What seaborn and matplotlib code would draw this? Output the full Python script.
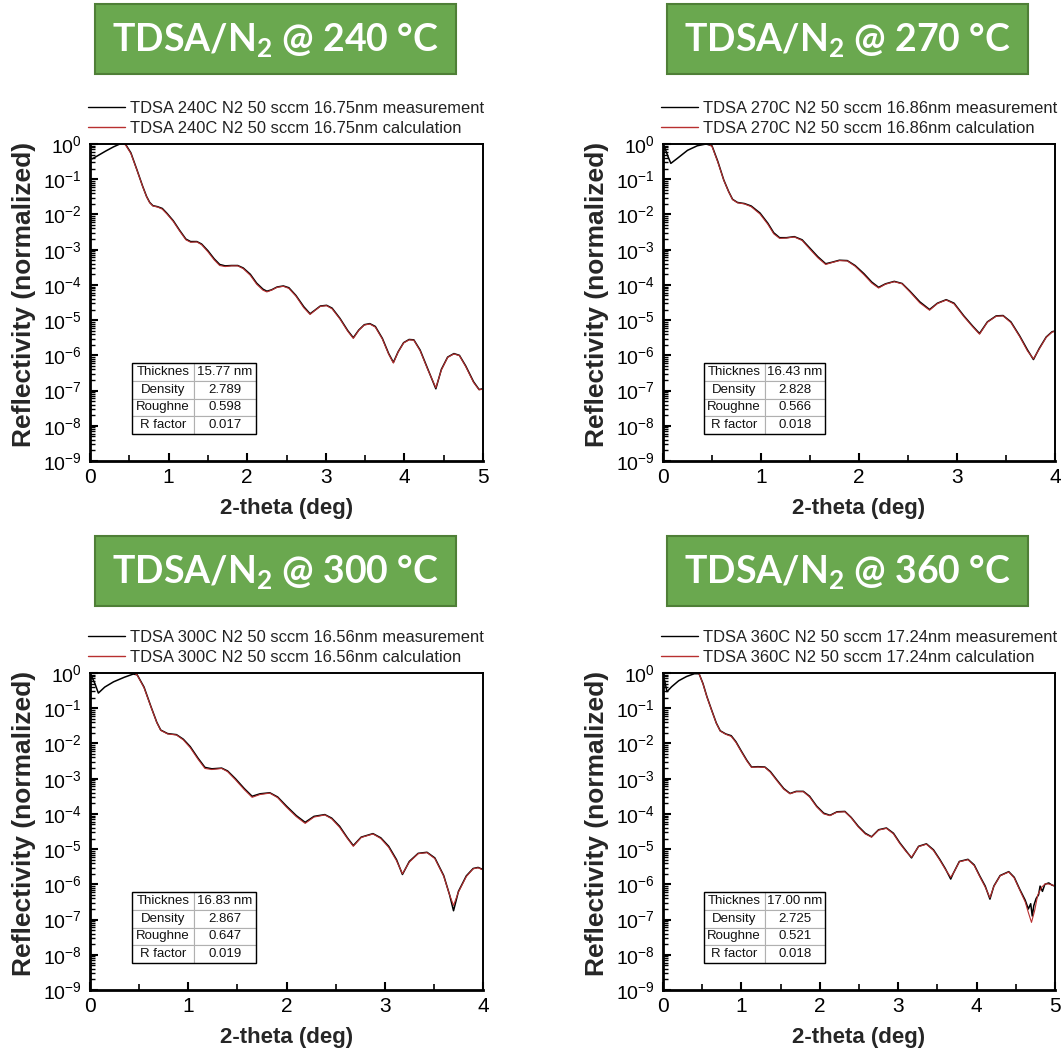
import numpy as np
import pandas as pd
import matplotlib
matplotlib.use("Agg")
import matplotlib.pyplot as plt
import seaborn as sns
from matplotlib.patches import Rectangle
from matplotlib.ticker import LogLocator, MultipleLocator, NullFormatter, FixedLocator

# ---------------- data (log10 of normalized reflectivity) ----------------
temps = ["240", "270", "300", "360"]
legend_thick = ["16.75", "16.86", "16.56", "17.24"]
x_max = [5, 4, 4, 5]

table_labels = ["Thicknes", "Density", "Roughne", "R factor"]
table_240 = ["15.77 nm", "2.789", "0.598", "0.017"]
table_270 = ["16.43 nm", "2.828", "0.566", "0.018"]
table_300 = ["16.83 nm", "2.867", "0.647", "0.019"]
table_360 = ["17.00 nm", "2.725", "0.521", "0.018"]

x_240_meas = [0.03, 0.10, 0.20, 0.30, 0.38, 0.45, 0.52, 0.60, 0.67, 0.72, 0.76, 0.80, 0.86, 0.92, 0.98,
              1.06, 1.14, 1.22, 1.28, 1.36, 1.42, 1.50, 1.58, 1.65, 1.72, 1.80, 1.88, 1.95, 2.04, 2.12,
              2.20, 2.25, 2.31, 2.38, 2.46, 2.53, 2.62, 2.72, 2.80, 2.86, 2.93, 3.01, 3.08, 3.18, 3.28,
              3.35, 3.42, 3.49, 3.56, 3.63, 3.72, 3.80, 3.86, 3.92, 3.99, 4.06, 4.12, 4.20, 4.30, 4.40,
              4.47, 4.55, 4.63, 4.70, 4.78, 4.88, 4.95, 5.00]
y_240_meas = [-0.42, -0.33, -0.20, -0.08, 0.00, 0.00, -0.25, -0.75, -1.20, -1.49, -1.66, -1.75, -1.78, -1.83, -1.97,
              -2.18, -2.45, -2.70, -2.77, -2.77, -2.84, -3.03, -3.26, -3.42, -3.46, -3.45, -3.45, -3.52, -3.70, -3.95,
              -4.12, -4.18, -4.14, -4.06, -4.03, -4.08, -4.30, -4.62, -4.82, -4.72, -4.60, -4.58, -4.66, -4.95, -5.30,
              -5.50, -5.28, -5.13, -5.10, -5.18, -5.52, -5.95, -6.20, -5.90, -5.64, -5.55, -5.56, -5.85, -6.40, -6.95,
              -6.40, -6.05, -5.95, -6.00, -6.30, -6.75, -6.97, -6.95]
x_240_calc = [0.40, 0.45, 0.52, 0.60, 0.67, 0.72, 0.76, 0.80, 0.86, 0.92, 0.98,
              1.06, 1.14, 1.22, 1.28, 1.36, 1.42, 1.50, 1.58, 1.65, 1.72, 1.80, 1.88, 1.95, 2.04, 2.12,
              2.20, 2.25, 2.31, 2.38, 2.46, 2.53, 2.62, 2.72, 2.80, 2.86, 2.93, 3.01, 3.08, 3.18, 3.28,
              3.35, 3.42, 3.49, 3.56, 3.63, 3.72, 3.80, 3.86, 3.92, 3.99, 4.06, 4.12, 4.20, 4.30, 4.40,
              4.47, 4.55, 4.63, 4.70, 4.78, 4.88, 4.95, 5.00]
y_240_calc = [0.00, -0.02, -0.27, -0.76, -1.21, -1.50, -1.67, -1.76, -1.79, -1.85, -1.99,
              -2.20, -2.47, -2.72, -2.79, -2.78, -2.86, -3.06, -3.29, -3.45, -3.48, -3.46, -3.46, -3.54, -3.73, -3.98,
              -4.15, -4.20, -4.15, -4.07, -4.04, -4.10, -4.32, -4.65, -4.84, -4.73, -4.61, -4.59, -4.68, -4.97, -5.32,
              -5.52, -5.29, -5.14, -5.11, -5.20, -5.54, -5.97, -6.22, -5.91, -5.65, -5.56, -5.57, -5.87, -6.42, -6.92,
              -6.42, -6.06, -5.96, -6.01, -6.32, -6.77, -6.98, -6.96]

x_270_meas = [0.02, 0.05, 0.08, 0.15, 0.25, 0.35, 0.44, 0.50, 0.56, 0.62, 0.67, 0.71, 0.76, 0.83, 0.90,
              0.99, 1.07, 1.13, 1.19, 1.26, 1.34, 1.42, 1.50, 1.58, 1.66, 1.72, 1.80, 1.88, 1.96, 2.05,
              2.13, 2.20, 2.27, 2.36, 2.44, 2.52, 2.62, 2.72, 2.80, 2.89, 2.97, 3.07, 3.16, 3.23, 3.31,
              3.40, 3.47, 3.55, 3.64, 3.72, 3.78, 3.84, 3.91, 3.97, 4.00]
y_270_meas = [-0.12, -0.35, -0.55, -0.40, -0.18, -0.05, 0.00, -0.05, -0.50, -1.02, -1.35, -1.57, -1.66, -1.69, -1.76,
              -1.96, -2.25, -2.52, -2.66, -2.66, -2.63, -2.72, -2.96, -3.20, -3.40, -3.36, -3.30, -3.31, -3.45, -3.68,
              -3.92, -4.07, -3.97, -3.90, -3.96, -4.18, -4.48, -4.70, -4.52, -4.42, -4.52, -4.88, -5.17, -5.38, -5.05,
              -4.88, -4.87, -5.05, -5.45, -5.85, -6.12, -5.80, -5.48, -5.33, -5.31]
x_270_calc = [0.46, 0.50, 0.56, 0.62, 0.67, 0.71, 0.76, 0.83, 0.90,
              0.99, 1.07, 1.13, 1.19, 1.26, 1.34, 1.42, 1.50, 1.58, 1.66, 1.72, 1.80, 1.88, 1.96, 2.05,
              2.13, 2.20, 2.27, 2.36, 2.44, 2.52, 2.62, 2.72, 2.80, 2.89, 2.97, 3.07, 3.16, 3.23, 3.31,
              3.40, 3.47, 3.55, 3.64, 3.72, 3.78, 3.84, 3.91, 3.97, 4.00]
y_270_calc = [0.00, -0.07, -0.52, -1.03, -1.36, -1.58, -1.67, -1.70, -1.78,
              -1.99, -2.28, -2.55, -2.68, -2.67, -2.64, -2.74, -2.99, -3.23, -3.42, -3.37, -3.31, -3.32, -3.47, -3.71,
              -3.95, -4.09, -3.98, -3.91, -3.97, -4.20, -4.51, -4.72, -4.53, -4.43, -4.54, -4.90, -5.19, -5.40, -5.06,
              -4.89, -4.88, -5.07, -5.47, -5.88, -6.10, -5.82, -5.49, -5.34, -5.32]

x_300_meas = [0.02, 0.05, 0.085, 0.15, 0.24, 0.35, 0.44, 0.48, 0.55, 0.62, 0.68, 0.72, 0.79, 0.88, 0.95,
              1.02, 1.10, 1.17, 1.24, 1.34, 1.40, 1.48, 1.57, 1.65, 1.73, 1.83, 1.91, 2.00, 2.10, 2.19,
              2.28, 2.39, 2.46, 2.54, 2.62, 2.68, 2.76, 2.88, 2.96, 3.04, 3.12, 3.18, 3.25, 3.34, 3.43,
              3.51, 3.60, 3.66, 3.70, 3.75, 3.83, 3.90, 3.95, 4.00]
y_300_meas = [-0.12, -0.30, -0.57, -0.40, -0.25, -0.12, -0.03, -0.05, -0.40, -0.95, -1.40, -1.62, -1.72, -1.75, -1.88,
              -2.09, -2.42, -2.68, -2.72, -2.70, -2.78, -3.00, -3.28, -3.50, -3.43, -3.40, -3.52, -3.78, -4.05, -4.24,
              -4.07, -4.02, -4.12, -4.35, -4.68, -4.90, -4.66, -4.56, -4.68, -4.92, -5.30, -5.72, -5.35, -5.12, -5.09,
              -5.25, -5.75, -6.30, -6.75, -6.20, -5.76, -5.55, -5.52, -5.58]
x_300_calc = [0.46, 0.48, 0.55, 0.62, 0.68, 0.72, 0.79, 0.88, 0.95,
              1.02, 1.10, 1.17, 1.24, 1.34, 1.40, 1.48, 1.57, 1.65, 1.73, 1.83, 1.91, 2.00, 2.10, 2.19,
              2.28, 2.39, 2.46, 2.54, 2.62, 2.68, 2.76, 2.88, 2.96, 3.04, 3.12, 3.18, 3.25, 3.34, 3.43,
              3.51, 3.60, 3.66, 3.70, 3.75, 3.83, 3.90, 3.95, 4.00]
y_300_calc = [-0.02, -0.06, -0.42, -0.96, -1.41, -1.63, -1.73, -1.76, -1.90,
              -2.12, -2.45, -2.71, -2.74, -2.71, -2.80, -3.03, -3.31, -3.53, -3.45, -3.41, -3.54, -3.81, -4.08, -4.27,
              -4.09, -4.03, -4.14, -4.38, -4.70, -4.92, -4.67, -4.57, -4.70, -4.95, -5.33, -5.70, -5.37, -5.13, -5.10,
              -5.27, -5.77, -6.30, -6.60, -6.22, -5.78, -5.56, -5.53, -5.59]

x_360_meas = [0.02, 0.05, 0.11, 0.20, 0.30, 0.40, 0.46, 0.51, 0.56, 0.62, 0.68, 0.73, 0.80, 0.87, 0.93,
              1.00, 1.07, 1.13, 1.21, 1.30, 1.37, 1.45, 1.54, 1.62, 1.70, 1.79, 1.87, 1.96, 2.05, 2.13,
              2.22, 2.32, 2.40, 2.49, 2.58, 2.66, 2.75, 2.85, 2.94, 3.02, 3.10, 3.17, 3.26, 3.36, 3.45,
              3.53, 3.60, 3.67, 3.70, 3.78, 3.89, 3.97, 4.04, 4.11, 4.17, 4.22, 4.30, 4.41, 4.48, 4.55,
              4.62, 4.66, 4.69, 4.71, 4.73, 4.76, 4.79, 4.81, 4.84, 4.87, 4.92, 4.96, 5.00]
y_360_meas = [-0.20, -0.53, -0.39, -0.22, -0.10, -0.02, -0.02, -0.30, -0.67, -1.05, -1.42, -1.64, -1.73, -1.78, -1.95,
              -2.22, -2.48, -2.67, -2.66, -2.67, -2.80, -3.03, -3.28, -3.42, -3.36, -3.36, -3.50, -3.78, -3.98, -4.04,
              -3.94, -3.93, -4.10, -4.35, -4.55, -4.65, -4.45, -4.40, -4.55, -4.82, -5.05, -5.25, -4.92, -4.85, -5.02,
              -5.29, -5.55, -5.85, -5.70, -5.35, -5.29, -5.45, -5.76, -6.05, -6.42, -6.05, -5.75, -5.64, -5.80, -6.14,
              -6.45, -6.70, -6.55, -6.90, -6.60, -6.40, -6.30, -6.05, -6.20, -6.00, -5.96, -6.02, -6.05]
x_360_calc = [0.46, 0.51, 0.56, 0.62, 0.68, 0.73, 0.80, 0.87, 0.93,
              1.00, 1.07, 1.13, 1.21, 1.30, 1.37, 1.45, 1.54, 1.62, 1.70, 1.79, 1.87, 1.96, 2.05, 2.13,
              2.22, 2.32, 2.40, 2.49, 2.58, 2.66, 2.75, 2.85, 2.94, 3.02, 3.10, 3.17, 3.26, 3.36, 3.45,
              3.53, 3.60, 3.67, 3.72, 3.78, 3.89, 3.97, 4.04, 4.11, 4.17, 4.22, 4.30, 4.41, 4.48, 4.55,
              4.62, 4.66, 4.70, 4.74, 4.78, 4.83, 4.88, 4.94, 5.00]
y_360_calc = [-0.02, -0.31, -0.68, -1.06, -1.43, -1.65, -1.74, -1.80, -1.97,
              -2.24, -2.50, -2.68, -2.67, -2.68, -2.82, -3.05, -3.30, -3.43, -3.37, -3.37, -3.52, -3.80, -4.00, -4.05,
              -3.95, -3.94, -4.11, -4.37, -4.57, -4.66, -4.46, -4.41, -4.57, -4.84, -5.07, -5.23, -4.93, -4.86, -5.04,
              -5.31, -5.57, -5.80, -5.62, -5.36, -5.30, -5.47, -5.78, -6.08, -6.38, -6.06, -5.76, -5.65, -5.82, -6.16,
              -6.50, -6.80, -7.08, -6.75, -6.30, -6.08, -5.98, -6.00, -6.05]

meas_x = [x_240_meas, x_270_meas, x_300_meas, x_360_meas]
meas_y = [y_240_meas, y_270_meas, y_300_meas, y_360_meas]
calc_x = [x_240_calc, x_270_calc, x_300_calc, x_360_calc]
calc_y = [y_240_calc, y_270_calc, y_300_calc, y_360_calc]
tables = [table_240, table_270, table_300, table_360]

# ---------------- style ----------------
sns.set_theme(style="white")
plt.rcParams["font.family"] = ["Liberation Sans", "DejaVu Sans"]
plt.rcParams["mathtext.fontset"] = "custom"
plt.rcParams["mathtext.bf"] = "Lato:bold"
plt.rcParams["mathtext.rm"] = "Lato"

W, H = 1063, 1055
fig = plt.figure(figsize=(W / 100, H / 100), dpi=100)
fig.patch.set_facecolor("white")

# pixel geometry of each panel: (axes left, axes right, axes top, axes bottom, title box left, title box top)
geom = [(90, 483, 144, 461, 95, 4),
        (663, 1055, 144, 461, 667, 4),
        (90, 483, 673, 990, 95, 536),
        (663, 1055, 673, 990, 667, 536)]

meas_color = "black"
calc_color = "#b83030"

for i in range(4):
    L, R, T, B, bx, by = geom[i]
    aw, ah = R - L, B - T
    ax = fig.add_axes([L / W, 1 - B / H, aw / W, ah / H])
    ax.set_facecolor("white")
    dm = pd.DataFrame({"x": meas_x[i], "y": np.power(10.0, meas_y[i])})
    dc = pd.DataFrame({"x": calc_x[i], "y": np.power(10.0, calc_y[i])})
    lab = f"TDSA {temps[i]}C N2 50 sccm {legend_thick[i]}nm"
    sns.lineplot(data=dm, x="x", y="y", ax=ax, color=meas_color, lw=1.1,
                 estimator=None, sort=False, label=lab + " measurement")
    sns.lineplot(data=dc, x="x", y="y", ax=ax, color=calc_color, lw=0.8,
                 estimator=None, sort=False, label=lab + " calculation")
    ax.set_yscale("log")
    ax.set_ylim(1e-9, 1)
    ax.set_xlim(0, x_max[i])
    ax.yaxis.set_major_locator(FixedLocator([10.0 ** k for k in range(-9, 1)]))
    ax.yaxis.set_minor_locator(LogLocator(base=10, subs=np.arange(2, 10), numticks=30))
    ax.yaxis.set_minor_formatter(NullFormatter())
    ax.xaxis.set_major_locator(MultipleLocator(1))
    ax.xaxis.set_minor_locator(MultipleLocator(0.5))
    ax.tick_params(axis="both", which="both", direction="in", top=False, right=False,
                   left=True, bottom=True, colors="black")
    ax.tick_params(axis="x", which="major", length=6, width=1.5, pad=5, labelsize=15)
    ax.tick_params(axis="x", which="minor", length=4, width=1.2)
    ax.tick_params(axis="y", which="major", length=6, width=1.5, pad=6, labelsize=14)
    ax.tick_params(axis="y", which="minor", length=3.5, width=1.0)
    for s in ["top", "right"]:
        ax.spines[s].set_linewidth(1.4)
        ax.spines[s].set_color("black")
    for s in ["left", "bottom"]:
        ax.spines[s].set_linewidth(2.0)
        ax.spines[s].set_color("black")
    ax.set_xlabel("2-theta (deg)", fontsize=16, fontweight="bold")
    ax.set_ylabel("Reflectivity (normalized)", fontsize=19, fontweight="bold")
    ax.xaxis.set_label_coords(0.5, -37 / ah)
    ax.yaxis.set_label_coords(-54 / aw, 0.5 + 8 / ah)
    ax.grid(False)

    leg = ax.legend(loc="lower left", bbox_to_anchor=(-2 / aw, 1 + 8 / ah),
                    frameon=False, fontsize=11.9, handlelength=2.25, handletextpad=0.3,
                    labelspacing=0.3, borderpad=0, borderaxespad=0)
    for t in leg.get_texts():
        t.set_color("#222222")
    for h in leg.get_lines():
        h.set_linewidth(1.0)

    # parameter table
    tx0 = (42 if i in (0, 2) else 41) / aw
    tw = (124 if i in (0, 2) else 121) / aw
    ty0 = 27 / ah
    th = 71 / ah
    cells = [[table_labels[r], tables[i][r]] for r in range(4)]
    tab = ax.table(cellText=cells, bbox=[tx0, ty0, tw, th], cellLoc="center", zorder=5)
    tab.auto_set_font_size(False)
    tab.set_fontsize(9.5)
    for (r, c), cell in tab.get_celld().items():
        cell.set_edgecolor("#b0b0b0")
        cell.set_linewidth(0.8)
        cell.set_facecolor("white")
        cell.get_text().set_color("#111111")
    ax.add_patch(Rectangle((tx0, ty0), tw, th, transform=ax.transAxes, fill=False,
                           edgecolor="black", lw=1.0, zorder=6, clip_on=False))

    # green title box
    bw, bh = 361, 70
    fig.patches.append(Rectangle((bx / W, 1 - (by + bh) / H), bw / W, bh / H,
                                 transform=fig.transFigure, facecolor="#6aa84f",
                                 edgecolor="#4f7f37", lw=1.5))
    fig.text((bx + bw / 2) / W, 1 - (by + bh / 2 + 2) / H,
             f"TDSA/N$_\\mathbf{{2}}$ @ {temps[i]} °C", color="white",
             fontsize=27, fontweight="bold", family=["Lato", "DejaVu Sans"],
             ha="center", va="center")

fig.savefig("out.png", dpi=100, facecolor="white")
